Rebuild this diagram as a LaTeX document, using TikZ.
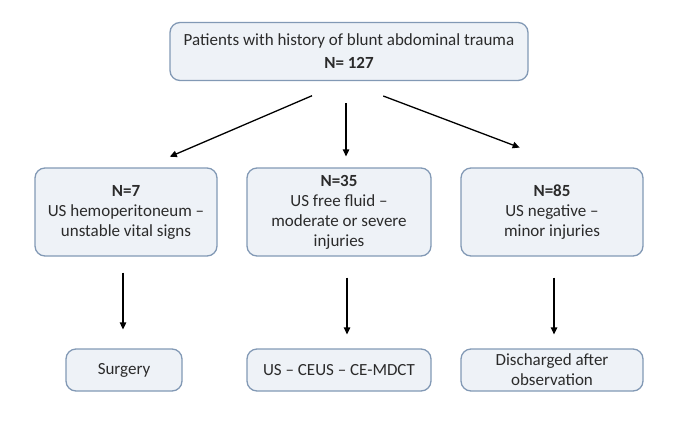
\documentclass[tikz,border=0pt]{standalone}
\usepackage{fontspec}
\setmainfont{Carlito}
\usepackage{xcolor}
\usepackage{tikz}
\usetikzlibrary{positioning, arrows.meta, calc}

\definecolor{boxfill}{HTML}{EEF2F7}
\definecolor{boxline}{HTML}{8299B5}
\definecolor{boxtext}{HTML}{2B2B2B}

\begin{document}
\begin{tikzpicture}[x=1pt, y=-1pt,
        box/.style={draw=boxline, fill=boxfill, line width=1.3pt, rectangle, rounded corners=10pt, align=center, text=boxtext, font=\fontsize{17}{20}\selectfont, inner sep=2pt},
        arrow/.style={-{Triangle[length=7pt, width=6.5pt]}, line width=1.3pt, black}
    ]
    \useasboundingbox (0,0) rectangle (680,421);

    % --- Row 1: all patients ---
    \node[box, minimum width=358pt, minimum height=58pt] (patients) at (349, 51.5) {Patients with history of blunt abdominal trauma\\[3pt]\textbf{N= 127}};

    % --- Row 2: ultrasound findings ---
    \node[box, minimum width=182pt, minimum height=88pt] (hemo) at (126, 212) {\textbf{N=7}\\US hemoperitoneum --\\unstable vital signs};
    \node[box, minimum width=184pt, minimum height=88pt] (fluid) at (339, 212) {\textbf{N=35}\\US free fluid --\\moderate or severe\\injuries};
    \node[box, minimum width=182pt, minimum height=88pt] (negative) at (552, 212) {\textbf{N=85}\\US negative --\\minor injuries};

    % --- Row 3: management ---
    \node[box, minimum width=116pt, minimum height=42pt] (surgery) at (124, 370) {Surgery};
    \node[box, minimum width=184pt, minimum height=42pt] (imaging) at (339, 370) {US -- CEUS -- CE-MDCT};
    \node[box, minimum width=182pt, minimum height=42pt] (discharged) at (552, 370) {Discharged after\\observation};

    % --- Arrows (top-down flow) ---
    \draw[arrow, shorten <=37pt, shorten >=27pt] ([xshift=-3pt]patients.south) -- ([xshift=19pt]hemo.north);
    \draw[arrow, shorten <=22pt, shorten >=11pt] ([xshift=-3pt]patients.south) -- ([xshift=7pt]fluid.north);
    \draw[arrow, shorten <=42pt, shorten >=56pt] ([xshift=-5pt]patients.south) -- ([xshift=20pt]negative.north);

    \draw[arrow, shorten <=16pt, shorten >=19pt] ([xshift=-3pt]hemo.south) -- ([xshift=-3pt]hemo.south |- surgery.north);
    \draw[arrow, shorten <=21pt, shorten >=14pt] ([xshift=8pt]fluid.south) -- ([xshift=8pt]fluid.south |- imaging.north);
    \draw[arrow, shorten <=21pt, shorten >=14pt] ([xshift=2pt]negative.south) -- ([xshift=2pt]negative.south |- discharged.north);

\end{tikzpicture}
\end{document}
